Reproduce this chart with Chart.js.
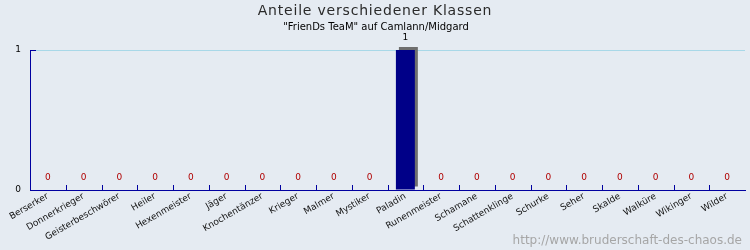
<!DOCTYPE html>
<html>
<head>
<meta charset="utf-8">
<script src="https://cdn.jsdelivr.net/npm/chart.js@4"></script>
<style>
  html, body { margin: 0; padding: 0; background: #e5ebf2; }
  #wrap { width: 750px; height: 250px; position: relative; }
</style>
</head>
<body>
<div id="wrap"><canvas id="c" width="750" height="250"></canvas></div>
<script>
const titleText = 'Anteile verschiedener Klassen';
const subtitleText = '"FrienDs TeaM" auf Camlann/Midgard';
const watermarkText = 'http://www.bruderschaft-des-chaos.de';

const categories = ['Berserker', 'Donnerkrieger', 'Geisterbeschwörer', 'Heiler', 'Hexenmeister',
  'Jäger', 'Knochentänzer', 'Krieger', 'Malmer', 'Mystiker', 'Paladin', 'Runenmeister',
  'Schamane', 'Schattenklinge', 'Schurke', 'Seher', 'Skalde', 'Walküre', 'Wikinger', 'Wilder'];
const counts = [0, 0, 0, 0, 0, 0, 0, 0, 0, 0, 1, 0, 0, 0, 0, 0, 0, 0, 0, 0];
const yTickValues = [0, 1];

const AXIS = '#0000a0';
const GRID = '#a8d8e8';
const BAR = '#000088';
const SHADOW = '#6e6e6e';
const ZERO_LABEL = '#b00000';

const decor = {
  id: 'decor',
  beforeDatasetsDraw(chart) {
    const ctx = chart.ctx;
    const meta = chart.getDatasetMeta(0);
    ctx.save();
    ctx.fillStyle = SHADOW;
    meta.data.forEach((bar, i) => {
      if (counts[i] > 0) {
        const p = bar.getProps(['x', 'y', 'base', 'width'], true);
        ctx.fillRect(p.x - p.width / 2 + 3, p.y - 3, p.width, p.base - p.y);
      }
    });
    ctx.restore();
  },
  afterDatasetsDraw(chart) {
    const ctx = chart.ctx;
    const xs = chart.scales.x, ys = chart.scales.y;
    const area = chart.chartArea;
    ctx.save();
    ctx.strokeStyle = AXIS;
    ctx.lineWidth = 1;
    for (let i = 1; i < categories.length; i++) {
      const x = Math.round((xs.getPixelForTick(i - 1) + xs.getPixelForTick(i)) / 2) + 0.5;
      ctx.beginPath();
      ctx.moveTo(x, area.bottom);
      ctx.lineTo(x, area.bottom - 5);
      ctx.stroke();
    }
    yTickValues.forEach(v => {
      const y = Math.round(ys.getPixelForValue(v)) + 0.5;
      ctx.beginPath();
      ctx.moveTo(area.left, y);
      ctx.lineTo(area.left + 6, y);
      ctx.stroke();
    });
    ctx.font = '9px "DejaVu Sans"';
    ctx.textAlign = 'center';
    ctx.textBaseline = 'middle';
    const meta = chart.getDatasetMeta(0);
    meta.data.forEach((bar, i) => {
      const p = bar.getProps(['x', 'y'], true);
      ctx.fillStyle = counts[i] > 0 ? '#000000' : ZERO_LABEL;
      ctx.fillText(String(counts[i]), p.x, p.y - 12);
    });
    ctx.restore();
  },
  afterDraw(chart) {
    const ctx = chart.ctx;
    ctx.save();
    ctx.textAlign = 'center';
    ctx.textBaseline = 'alphabetic';
    ctx.fillStyle = '#2a2a2a';
    ctx.font = '14px "DejaVu Sans"';
    try { ctx.letterSpacing = '0.8px'; } catch (e) {}
    ctx.fillText(titleText, chart.width / 2, 15);
    try { ctx.letterSpacing = '0px'; } catch (e) {}
    ctx.fillStyle = '#000000';
    ctx.font = '10px "DejaVu Sans"';
    ctx.fillText(subtitleText, chart.width / 2 + 1, 30);
    ctx.textAlign = 'right';
    ctx.fillStyle = '#a6a6a6';
    ctx.font = '12px "DejaVu Sans"';
    ctx.fillText(watermarkText, 742, 244);
    ctx.restore();
  }
};

new Chart(document.getElementById('c'), {
  type: 'bar',
  data: {
    labels: categories,
    datasets: [{
      data: counts,
      backgroundColor: BAR,
      borderWidth: 0,
      barPercentage: 0.53,
      categoryPercentage: 1.0
    }]
  },
  options: {
    responsive: false,
    animation: false,
    devicePixelRatio: 1,
    layout: { padding: { top: 50, left: 0, right: 5, bottom: 0 } },
    plugins: {
      legend: { display: false },
      tooltip: { enabled: false },
      title: { display: false }
    },
    scales: {
      x: {
        offset: true,
        grid: { display: true, drawOnChartArea: false, drawTicks: false, color: 'transparent' },
        border: { display: true, color: AXIS, width: 1 },
        ticks: {
          autoSkip: false,
          minRotation: 30,
          maxRotation: 30,
          padding: 1,
          color: '#111111',
          font: { family: 'DejaVu Sans', size: 9 }
        },
        afterFit(scale) { scale.height = 60; }
      },
      y: {
        min: 0,
        max: 1,
        afterBuildTicks(scale) { scale.ticks = yTickValues.map(v => ({ value: v })); },
        grid: {
          drawTicks: false,
          color: (c) => (c.tick && c.tick.value === 1 ? GRID : 'transparent'),
          lineWidth: 1
        },
        border: { display: true, color: AXIS, width: 1 },
        ticks: {
          padding: 9,
          color: '#000000',
          font: { family: 'DejaVu Sans', size: 9 }
        },
        afterFit(scale) { scale.width = 30; }
      }
    }
  },
  plugins: [decor]
});
</script>
</body>
</html>
